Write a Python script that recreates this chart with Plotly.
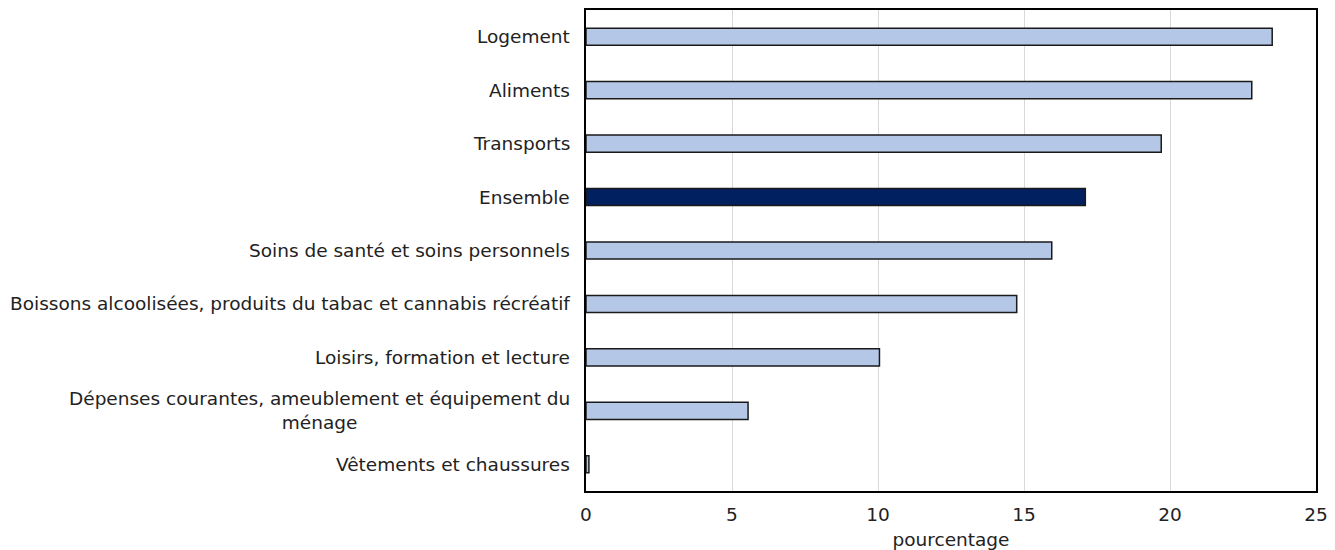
import plotly.graph_objects as go

categories = [
    "Logement",
    "Aliments",
    "Transports",
    "Ensemble",
    "Soins de santé et soins personnels",
    "Boissons alcoolisées, produits du tabac et cannabis récréatif",
    "Loisirs, formation et lecture",
    "Dépenses courantes, ameublement et équipement du<br>ménage",
    "Vêtements et chaussures",
]
values = [23.5, 22.8, 19.7, 17.1, 15.95, 14.75, 10.05, 5.55, 0.1]
bar_colors = ["#b4c7e7", "#b4c7e7", "#b4c7e7", "#002060", "#b4c7e7",
              "#b4c7e7", "#b4c7e7", "#b4c7e7", "#b4c7e7"]
x_ticks = [0, 5, 10, 15, 20, 25]
x_title = "pourcentage"

FONT = "DejaVu Sans, Verdana, sans-serif"
FS = 18.5

fig = go.Figure()
fig.add_trace(go.Bar(
    y=categories, x=values, orientation="h",
    marker=dict(color=bar_colors, line=dict(color="#1a1a1a", width=1.5)),
    width=0.32, hoverinfo="x+y",
))

for c in categories:
    fig.add_annotation(
        x=0, xref="paper", y=c, yref="y", text=c, showarrow=False,
        xanchor="right", yanchor="middle", align="center", xshift=-14,
        font=dict(family=FONT, size=FS, color="#222222"),
    )

fig.update_layout(
    width=1335, height=550,
    margin=dict(l=586, r=19, t=10, b=59, autoexpand=False),
    paper_bgcolor="white", plot_bgcolor="white",
    showlegend=False,
    font=dict(family=FONT, size=FS, color="#222222"),
    bargap=0.68,
)
fig.update_xaxes(
    range=[0, 25], tickvals=x_ticks, ticktext=[str(t) for t in x_ticks],
    showgrid=True, gridcolor="#d9d9d9", gridwidth=1,
    showline=True, linecolor="black", linewidth=1.5, mirror=True,
    ticks="", zeroline=False, ticklabelstandoff=6, automargin=False,
    title=dict(text=x_title, standoff=12, font=dict(family=FONT, size=FS)),
    tickfont=dict(family=FONT, size=FS),
)
fig.update_yaxes(
    autorange="reversed", showticklabels=False, automargin=False,
    showline=True, linecolor="black", linewidth=1.5, mirror=True,
    showgrid=False, ticks="",
)

fig.write_html("out.html")
